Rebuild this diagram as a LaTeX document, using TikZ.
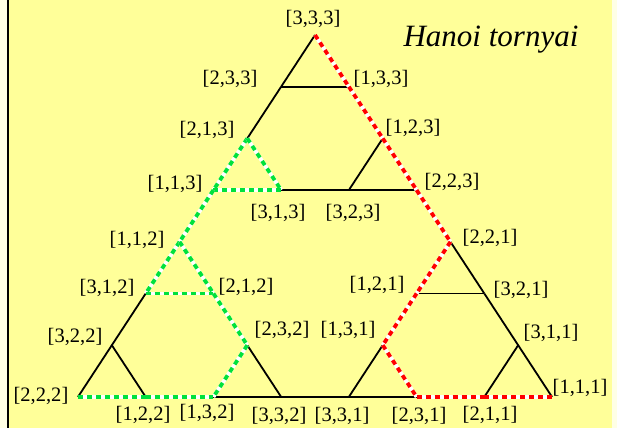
\documentclass[tikz,border=0pt]{standalone}
\usepackage{fontspec}
\setmainfont{Liberation Serif}
\usetikzlibrary{positioning}
\definecolor{slideyellow}{RGB}{255,255,153}
\definecolor{pathgreen}{RGB}{0,225,60}
\definecolor{pathred}{RGB}{255,0,0}
\tikzset{
  lbl/.style   = {inner sep=0pt, font=\fontsize{20.5}{24}\selectfont},
  edge/.style  = {draw=black, line width=1.8pt},
  gpath/.style = {draw=white, line width=3.8pt,
                  postaction={draw=pathgreen, line width=3.8pt, dash pattern=on 5pt off 4pt}},
  rpath/.style = {draw=white, line width=3.8pt,
                  postaction={draw=pathred, line width=3.8pt, dash pattern=on 5pt off 4pt}},
}

\begin{document}
\begin{tikzpicture}[x=1pt, y=-1pt]
  \useasboundingbox (0,0) rectangle (617,428);
  % slide background
  \fill[slideyellow!25] (0,0) rectangle (617,428);
  \fill[slideyellow] (8,0) rectangle (612,428);
  \draw[line width=2.5pt] (8,0) -- (8,428);
  % vertices: name / row / position in row
  \foreach \n/\r/\k in {333/0/0, 233/1/0, 133/1/1, 213/2/0, 123/2/2,
      113/3/0, 313/3/1, 323/3/2, 223/3/3, 112/4/0, 221/4/4,
      312/5/0, 212/5/1, 121/5/4, 321/5/5, 322/6/0, 232/6/2, 131/6/4, 311/6/6,
      222/7/0, 122/7/1, 132/7/2, 332/7/3, 331/7/4, 231/7/5, 211/7/6, 111/7/7} {
    \coordinate (v\n) at ({315+(2*\k-\r)*33.86}, {35+\r*51.7});
  }
  % plain edges
  \foreach \a/\b in {333/233, 233/133, 233/213, 123/323, 323/223, 313/323,
      221/321, 121/321, 321/311, 311/211, 311/111, 131/331, 331/231, 332/331,
      232/332, 132/332, 312/322, 322/222, 322/122} {
    \draw[edge] (v\a) -- (v\b);
  }
  % green path
  \foreach \a/\b in {213/113, 213/313, 113/313, 113/112, 112/312, 112/212,
      312/212, 212/232, 232/132, 222/122, 122/132} {
    \draw[gpath] (v\a) -- (v\b);
  }
  % red path
  \foreach \a/\b in {333/133, 133/123, 123/223, 223/221, 221/121, 121/131,
      131/231, 231/211, 211/111} {
    \draw[rpath] (v\a) -- (v\b);
  }
  % labels
  \foreach \n/\t/\x/\y in {333/{3,3,3}/313/19, 233/{2,3,3}/230/79, 133/{1,3,3}/381/79,
      213/{2,1,3}/207/130, 123/{1,2,3}/413/128, 113/{1,1,3}/175/184,
      313/{3,1,3}/278/213, 323/{3,2,3}/353/213, 223/{2,2,3}/452/182,
      112/{1,1,2}/137/240, 221/{2,2,1}/490/238, 312/{3,1,2}/107/288,
      212/{2,1,2}/246/287, 121/{1,2,1}/377/285, 321/{3,2,1}/521/290,
      322/{3,2,2}/75/337, 232/{2,3,2}/282/330, 131/{1,3,1}/348/330,
      311/{3,1,1}/551/333, 222/{2,2,2}/41/396, 111/{1,1,1}/580/388,
      122/{1,2,2}/143/415, 132/{1,3,2}/207/413, 332/{3,3,2}/279/416,
      331/{3,3,1}/342/416, 231/{2,3,1}/419/416, 211/{2,1,1}/490/415} {
    \node[lbl] (l\n) at (\x,\y) {[\t]};
  }
  \node[lbl, font=\fontsize{31}{36}\selectfont\itshape] (title) at (491,40) {Hanoi tornyai};
\end{tikzpicture}
\end{document}
